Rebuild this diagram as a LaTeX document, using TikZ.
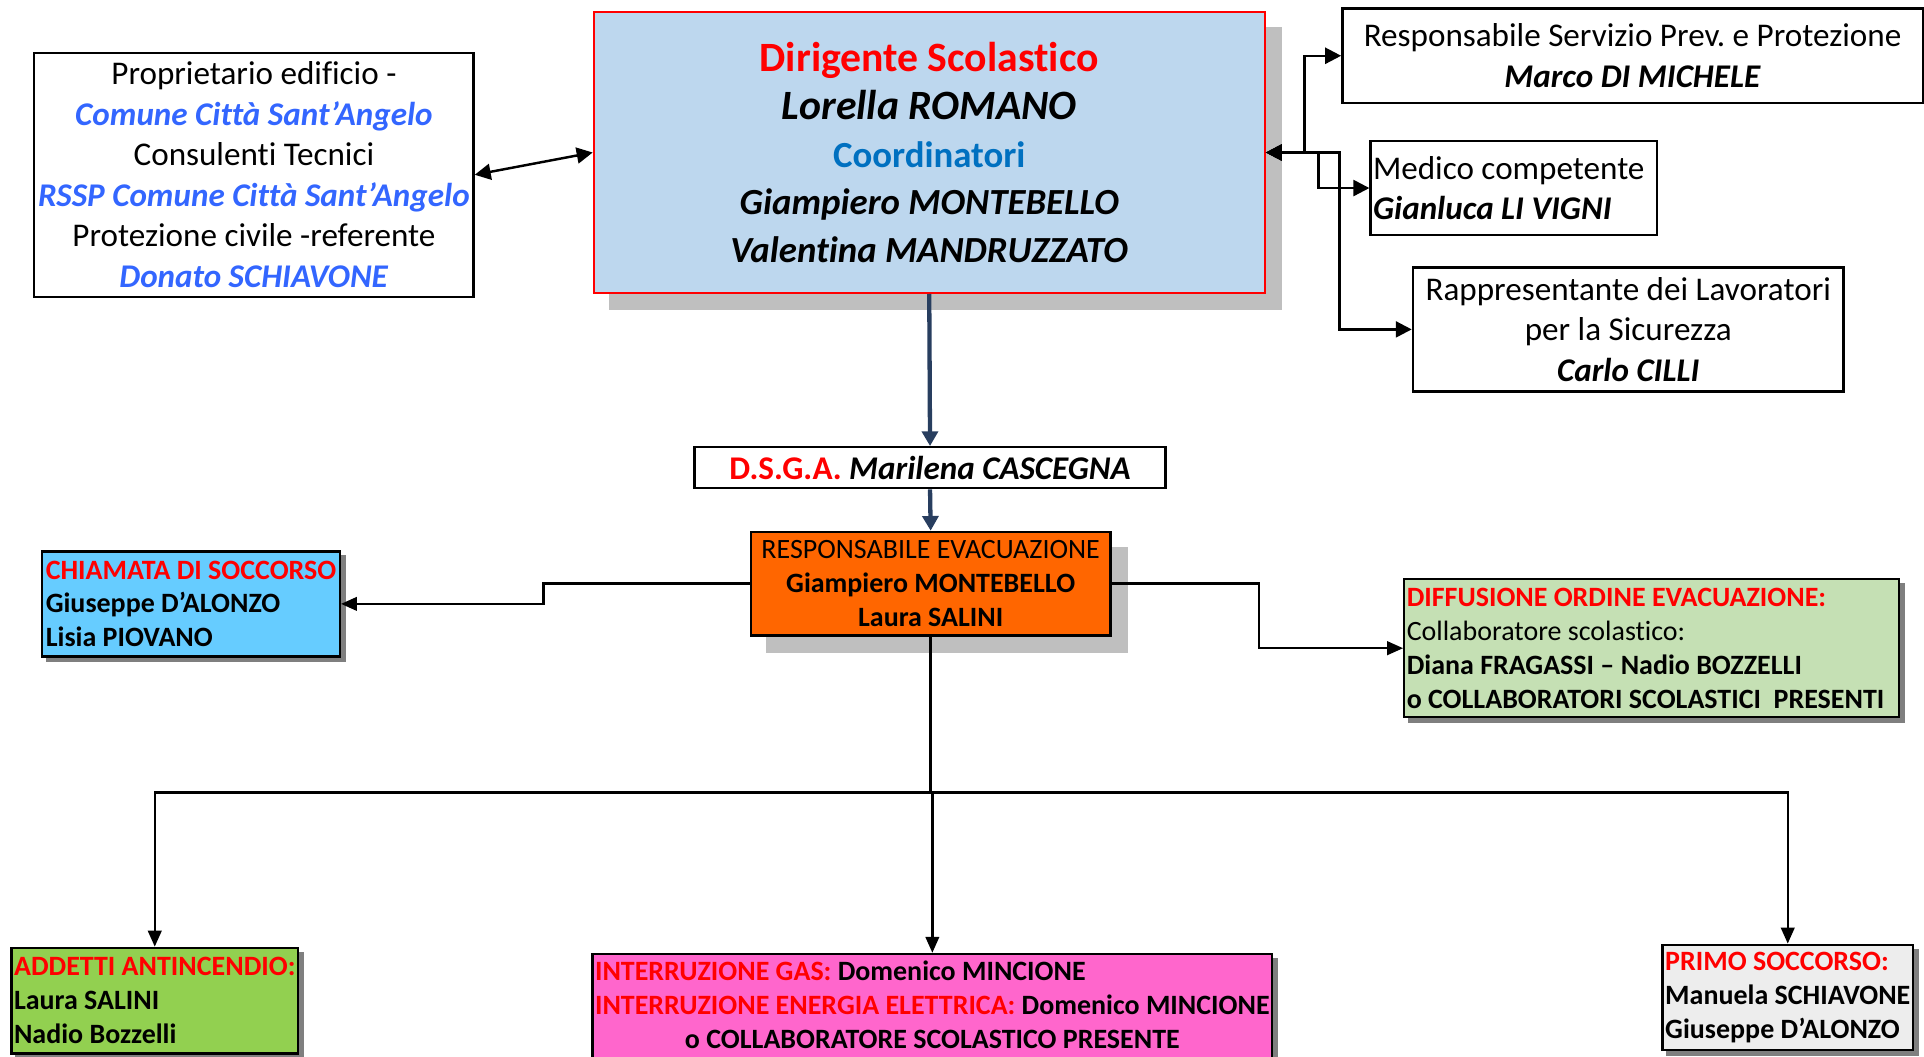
\documentclass[tikz,border=0pt]{standalone}
\usepackage{fontspec}
\setmainfont{Carlito}[Ligatures={TeX,CommonOff}]
\frenchspacing
\usetikzlibrary{arrows.meta,calc}
\pgfdeclarelayer{background}
\pgfsetlayers{background,main}
\definecolor{dirfill}{HTML}{BDD7EE}
\definecolor{coordblue}{HTML}{0070C0}
\definecolor{namblue}{HTML}{3366FF}
\definecolor{linkblue}{HTML}{283E5F}
\definecolor{shadowlight}{HTML}{BFBFBF}
\definecolor{shadowdark}{HTML}{7F7F7F}
\definecolor{revorange}{HTML}{FF6600}
\definecolor{callblue}{HTML}{66CCFF}
\definecolor{spreadgreen}{HTML}{C5E0B4}
\definecolor{firegreen}{HTML}{92D050}
\definecolor{gaspink}{HTML}{FF66CC}
\definecolor{aidgray}{HTML}{EDEDED}
\tikzset{
  orgbox/.style={draw, line width=1.9pt, inner sep=2pt, anchor=north west,
    font=\fontsize{27}{33}\selectfont},
  lowbox/.style={orgbox, align=flush left,
    font=\fontsize{22.8}{27.6}\selectfont\bfseries},
  link/.style={line width=2pt, -{Triangle[length=13pt,width=11pt]}},
  twoway/.style={line width=2pt,
    {Triangle[length=13pt,width=13pt]}-{Triangle[length=13pt,width=13pt]}},
  biglink/.style={draw=linkblue, line width=3.5pt,
    -{Triangle[length=12pt,width=13pt]}}
}
\newcommand{\bluename}[1]{\textcolor{namblue}{\textbf{\textit{#1}}}}
\newcommand{\boldname}[1]{\textbf{\textit{#1}}}
\newcommand{\dirsmall}{\fontsize{30}{39}\selectfont}
\newcommand{\boxshadow}[3]{
  \begin{pgfonlayer}{background}
    \fill [#3] ([shift={(#2,#2)}]#1.north west) rectangle ([shift={(#2,#2)}]#1.south east);
  \end{pgfonlayer}
}

\begin{document}
\begin{tikzpicture}[x=1pt, y=-1pt]
  \clip (0,0) rectangle (1568,861);
  % top row
  \node [orgbox, minimum width=358pt, minimum height=199pt, align=center] (owner) at (27,42)
    {Proprietario edificio -\\ \bluename{Comune Città Sant’Angelo}\\ Consulenti Tecnici\\
     \bluename{RSSP Comune Città Sant’Angelo}\\ Protezione civile -referente\\ \bluename{Donato SCHIAVONE}};
  \node [orgbox, draw=red, line width=1.6pt, fill=dirfill, minimum width=547pt, minimum height=229pt, align=center,
    font=\fontsize{34}{39}\selectfont\bfseries] (dir) at (483,9)
    {\textcolor{red}{Dirigente Scolastico}\\ \textit{Lorella ROMANO}\\
     {\dirsmall\color{coordblue}Coordinatori}\\ {\dirsmall\itshape Giampiero MONTEBELLO}\\
     {\dirsmall\itshape Valentina MANDRUZZATO}};
  \node [orgbox, minimum width=473pt, minimum height=77pt, align=center] (rspp) at (1093,6)
    {Responsabile Servizio Prev. e Protezione\\ \boldname{Marco DI MICHELE}};
  \node [orgbox, minimum width=233.5pt, minimum height=76.6pt, text width=229.5pt, align=flush left] (medico) at (1116,114)
    {Medico competente\\ \boldname{Gianluca LI VIGNI}};
  \node [orgbox, minimum width=351pt, minimum height=101pt, align=center] (rls) at (1150.5,217)
    {Rappresentante dei Lavoratori\\ per la Sicurezza\\ \boldname{Carlo CILLI}};
  \boxshadow{dir}{13}{shadowlight}

  % middle
  \node [orgbox, minimum width=384pt, minimum height=33.5pt] (dsga) at (565,363.5)
    {\textcolor{red}{\textbf{D.S.G.A.}} \boldname{Marilena CASCEGNA}};
  \node [lowbox, fill=revorange, minimum width=293pt, minimum height=84.5pt, align=center] (rev) at (611,432.5)
    {\textmd{RESPONSABILE EVACUAZIONE}\\ Giampiero MONTEBELLO\\ Laura SALINI};
  \boxshadow{rev}{13}{shadowlight}
  \node [lowbox, fill=callblue, minimum width=242.5pt, minimum height=85.6pt] (call) at (33.5,448.4)
    {\textcolor{red}{CHIAMATA DI SOCCORSO}\\ Giuseppe D’ALONZO\\ Lisia PIOVANO};
  \node [lowbox, fill=spreadgreen, minimum width=403pt, minimum height=112.6pt, text width=399pt] (spread) at (1143.5,471)
    {\textcolor{red}{DIFFUSIONE ORDINE EVACUAZIONE:}\\ \textmd{Collaboratore scolastico:}\\
     Diana FRAGASSI -- Nadio BOZZELLI\\ o COLLABORATORI SCOLASTICI~~PRESENTI};

  % bottom row
  \node [lowbox, fill=firegreen, minimum width=230.5pt, minimum height=86pt] (fire) at (8.5,771.5)
    {\textcolor{red}{ADDETTI ANTINCENDIO:}\\ Laura SALINI\\ Nadio Bozzelli};
  \node [lowbox, fill=gaspink, minimum width=552pt, minimum height=88pt] (gas) at (482,776.5)
    {\begin{tabular}{@{}l@{}}
       \textcolor{red}{INTERRUZIONE GAS:} Domenico MINCIONE\\
       \textcolor{red}{INTERRUZIONE ENERGIA ELETTRICA:} Domenico MINCIONE\\
       \multicolumn{1}{@{}c@{}}{o COLLABORATORE SCOLASTICO PRESENTE}
     \end{tabular}};
  \node [lowbox, fill=aidgray, minimum width=204pt, minimum height=85.7pt] (aid) at (1354,769)
    {\textcolor{red}{PRIMO SOCCORSO:}\\ Manuela SCHIAVONE\\ Giuseppe D’ALONZO};
  \foreach \n in {call,spread,fire,gas,aid}
    {\boxshadow{\n}{4}{shadowdark}}

  % connectors
  \draw [twoway] (owner.east) -- (dir.west);
  \draw [twoway] (dir.east) -- ++(31.5,0) |- (rspp.west);
  \draw [twoway] (dir.east) -- ++(43,0) |- (medico.west);
  \draw [twoway] (dir.east) -- ++(60,0) |- (rls.west);
  \draw [biglink] (dir.south) -- (dsga.north);
  \draw [biglink] (dsga.south) -- (rev.north);
  \draw [link] (rev.west) -- ++(-168,0) |- (call.east);
  \draw [link] (rev.east) -- ++(120,0) |- (spread.west);
  \coordinate (fork) at ($(rev.south)+(0,127)$);
  \draw [line width=2pt] (rev.south) -- (fork);
  \foreach \n in {fire,gas,aid}
    \draw [link] (fork) -| (\n.north);
\end{tikzpicture}
\end{document}
